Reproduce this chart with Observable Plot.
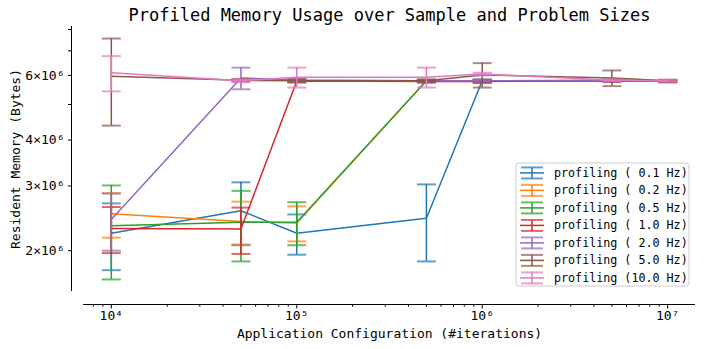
<!DOCTYPE html>
<html><head><meta charset="utf-8">
<script src="https://cdn.jsdelivr.net/npm/d3@7"></script>
<script src="https://cdn.jsdelivr.net/npm/@observablehq/plot@0.6"></script>
<style>
body{margin:0;background:#fff;}
#chart svg{display:block;}
</style></head><body><div id="chart"></div>
<script>
// ---- data ----
const iterations = [1e4, 5e4, 1e5, 5e5, 1e6, 5e6, 1e7];
const seriesLabels = ["profiling ( 0.1 Hz)", "profiling ( 0.2 Hz)", "profiling ( 0.5 Hz)", "profiling ( 1.0 Hz)", "profiling ( 2.0 Hz)", "profiling ( 5.0 Hz)", "profiling (10.0 Hz)"];
const seriesColors = ["#1f77b4", "#ff7f0e", "#2ca02c", "#d62728", "#9467bd", "#8c564b", "#e377c2"];

const mem_0_1Hz  = [2.23e6, 2.57e6, 2.23e6, 2.45e6, 5.80e6, 5.82e6, 5.80e6];
const err_0_1Hz  = [0.46e6, 0.50e6, 0.28e6, 0.58e6, 0.05e6, 0.03e6, 0.03e6];
const mem_0_2Hz  = [2.52e6, 2.40e6, 2.38e6, 5.80e6, 5.80e6, 5.80e6, 5.80e6];
const err_0_2Hz  = [0.35e6, 0.32e6, 0.26e6, 0.04e6, 0.03e6, 0.03e6, 0.03e6];
const mem_0_5Hz  = [2.34e6, 2.39e6, 2.39e6, 5.80e6, 5.80e6, 5.80e6, 5.80e6];
const err_0_5Hz  = [0.67e6, 0.52e6, 0.32e6, 0.04e6, 0.03e6, 0.03e6, 0.03e6];
const mem_1_0Hz  = [2.30e6, 2.29e6, 5.79e6, 5.78e6, 5.78e6, 5.79e6, 5.79e6];
const err_1_0Hz  = [0.33e6, 0.33e6, 0.05e6, 0.05e6, 0.06e6, 0.03e6, 0.05e6];
const mem_2_0Hz  = [2.43e6, 5.90e6, 5.83e6, 5.80e6, 5.80e6, 5.80e6, 5.80e6];
const err_2_0Hz  = [0.43e6, 0.40e6, 0.05e6, 0.04e6, 0.03e6, 0.03e6, 0.03e6];
const mem_5_0Hz  = [5.97e6, 5.82e6, 5.80e6, 5.80e6, 6.02e6, 5.90e6, 5.80e6];
const err_5_0Hz  = [1.59e6, 0.05e6, 0.05e6, 0.04e6, 0.46e6, 0.29e6, 0.03e6];
const mem_10_0Hz = [6.10e6, 5.80e6, 5.93e6, 5.93e6, 6.05e6, 5.82e6, 5.80e6];
const err_10_0Hz = [0.67e6, 0.05e6, 0.37e6, 0.37e6, 0.05e6, 0.03e6, 0.03e6];

const xTickValues = [1e4, 1e5, 1e6, 1e7];
const xTickLabels = ["10⁴", "10⁵", "10⁶", "10⁷"];
const yTickValues = [2e6, 3e6, 4e6, 5e6, 6e6, 7e6, 8e6];
const yTickLabels = ["2×10⁶", "3×10⁶", "4×10⁶", "", "6×10⁶", "", ""];

const titleText = "Profiled Memory Usage over Sample and Problem Sizes";
const xLabelText = "Application Configuration (#iterations)";
const yLabelText = "Resident Memory (Bytes)";

// ---- build table ----
const means = [mem_0_1Hz, mem_0_2Hz, mem_0_5Hz, mem_1_0Hz, mem_2_0Hz, mem_5_0Hz, mem_10_0Hz];
const errs = [err_0_1Hz, err_0_2Hz, err_0_5Hz, err_1_0Hz, err_2_0Hz, err_5_0Hz, err_10_0Hz];
const series = seriesLabels.map((label, s) => ({
  label, color: seriesColors[s],
  rows: iterations.map((x, i) => ({x, y: means[s][i], lo: means[s][i] - errs[s][i], hi: means[s][i] + errs[s][i]}))
}));

const allRows = series.flatMap(s => s.rows);
const lmin = Math.log10(d3.min(allRows, d => d.lo)), lmax = Math.log10(d3.max(allRows, d => d.hi));
const ym = 0.05 * (lmax - lmin);
const yDomain = [10 ** (lmin - ym), 10 ** (lmax + ym)];
const lx0 = Math.log10(iterations[0]), lx1 = Math.log10(iterations[iterations.length - 1]);
const xm = 0.05 * (lx1 - lx0);
const xDomain = [10 ** (lx0 - xm), 10 ** (lx1 + xm)];

const xMinor = [];
for (let e = 3; e <= 7; e++) for (let m = 2; m <= 9; m++) {
  const v = m * 10 ** e;
  if (v >= xDomain[0] && v <= xDomain[1]) xMinor.push(v);
}

const capSymbol = {draw(ctx, size) { const r = Math.sqrt(size / Math.PI); ctx.moveTo(-r, 0); ctx.lineTo(r, 0); }};

const marks = [];
for (const s of series) {
  marks.push(Plot.line(s.rows, {x: "x", y: "y", stroke: s.color, strokeWidth: 1.5}));
  marks.push(Plot.ruleX(s.rows, {x: "x", y1: "lo", y2: "hi", stroke: s.color, strokeWidth: 1.5}));
  marks.push(Plot.dot(s.rows, {x: "x", y: "hi", symbol: capSymbol, r: 9.5, fill: "none", stroke: s.color, strokeWidth: 2, strokeOpacity: 0.7}));
  marks.push(Plot.dot(s.rows, {x: "x", y: "lo", symbol: capSymbol, r: 9.5, fill: "none", stroke: s.color, strokeWidth: 2, strokeOpacity: 0.7}));
}

const plot = Plot.plot({
  width: 705, height: 349,
  marginLeft: 83, marginRight: 10, marginTop: 26, marginBottom: 58,
  style: {fontFamily: "'DejaVu Sans Mono', monospace", fontSize: "13px", color: "#000", background: "#fff"},
  x: {type: "log", domain: xDomain},
  y: {type: "log", domain: yDomain},
  marks: [
    Plot.ruleX([xDomain[0]], {dx: -12, stroke: "#000", strokeWidth: 1}),
    Plot.ruleY([yDomain[0]], {dy: 13, stroke: "#000", strokeWidth: 1}),
    Plot.axisX(xMinor, {tickSize: 2.7, tickFormat: () => "", dy: 13, label: null}),
    Plot.axisX(xTickValues, {tickSize: 4.5, tickFormat: d => xTickLabels[xTickValues.indexOf(d)], dy: 13, label: null, fontSize: 13, tickPadding: 2}),
    Plot.axisY(yTickValues, {tickSize: 3, tickFormat: d => yTickLabels[yTickValues.indexOf(d)], dx: -12, label: null, fontSize: 13, tickPadding: 4}),
    ...marks,
    Plot.text([titleText], {frameAnchor: "top", dy: -11, lineAnchor: "middle", fontSize: 17}),
    Plot.text([xLabelText], {frameAnchor: "bottom", dy: 42, lineAnchor: "middle", fontSize: 13}),
    Plot.text([yLabelText], {frameAnchor: "left", dx: -68, rotate: -90, textAnchor: "middle", lineAnchor: "middle", fontSize: 13})
  ]
});

// ---- legend ----
const svg = d3.select(plot);
const lg = svg.append("g").attr("font-family", "'DejaVu Sans Mono', monospace").attr("font-size", "11.7px").attr("text-anchor", "start");
lg.append("rect").attr("x", 516).attr("y", 163).attr("width", 173).attr("height", 123).attr("rx", 3)
  .attr("fill", "#fff").attr("fill-opacity", 0.8).attr("stroke", "#cccccc");
series.forEach((s, i) => {
  const cy = 172.9 + i * 17.5;
  const g = lg.append("g");
  g.append("line").attr("x1", 520).attr("x2", 544).attr("y1", cy).attr("y2", cy).attr("stroke", s.color).attr("stroke-width", 1.5);
  g.append("line").attr("x1", 532).attr("x2", 532).attr("y1", cy - 5.5).attr("y2", cy + 5.5).attr("stroke", s.color).attr("stroke-width", 1.5);
  g.append("line").attr("x1", 521).attr("x2", 543).attr("y1", cy - 5.5).attr("y2", cy - 5.5).attr("stroke", s.color).attr("stroke-width", 2).attr("stroke-opacity", 0.7);
  g.append("line").attr("x1", 521).attr("x2", 543).attr("y1", cy + 5.5).attr("y2", cy + 5.5).attr("stroke", s.color).attr("stroke-width", 2).attr("stroke-opacity", 0.7);
  g.append("text").attr("x", 554).attr("y", cy).attr("dy", "0.35em").attr("fill", "#000").attr("text-anchor", "start").style("white-space", "pre").text(s.label);
});

document.getElementById("chart").appendChild(plot);
</script>
</body></html>
